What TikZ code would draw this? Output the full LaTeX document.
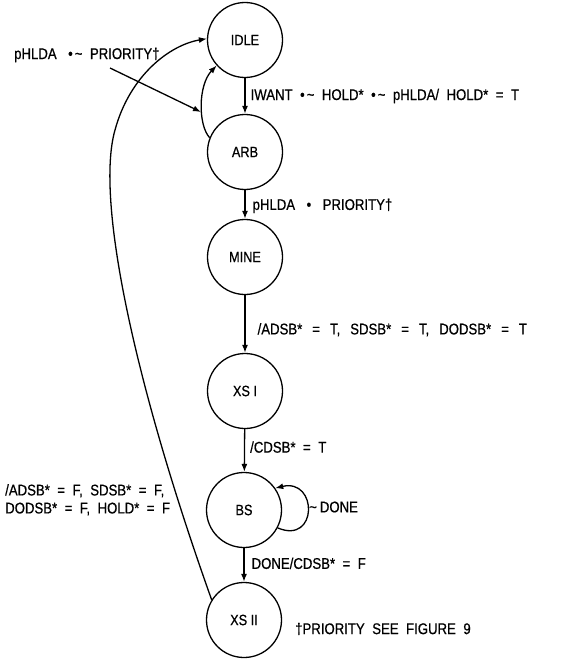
\documentclass[tikz,border=0pt]{standalone}
\usepackage{fontspec}
\setmainfont{Liberation Sans}[FakeStretch=0.85,FakeBold=0.6]
\usetikzlibrary{arrows.meta}
\newcommand{\nt}{\textasciitilde}
\newcommand{\labfont}{\fontsize{15.5}{18}\selectfont\spaceskip=7.5pt plus 1pt minus 1pt\relax}
\newcommand{\widelabfont}{\fontsize{15.5}{18}\selectfont\spaceskip=10pt plus 1pt minus 1pt\relax}
\begin{document}
\begin{tikzpicture}[x=1pt,y=-1pt,
  st/.style={circle,draw,line width=1.3pt,minimum size=75pt,inner sep=0pt,font=\fontsize{15}{17}\selectfont},
  arr/.style={line width=1.3pt,-{Latex[length=8pt,width=6pt]}},
  lab/.style={font=\labfont,inner sep=0pt,anchor=west}]
\useasboundingbox (0,0) rectangle (560,661);
\node[st] (idle) at (245,40) {IDLE};
\node[st] (arb) at (245,152) {ARB};
\node[st] (mine) at (245,257) {MINE};
\node[st] (xs1) at (245,391) {XS I};
\node[st] (bs) at (244,510) {BS};
\node[st] (xs2) at (244,620) {XS II};

\draw[arr] (idle) -- (arb) node[lab,pos=0.5,xshift=5pt] (l1) {IWANT •\kern2pt\nt\ HOLD* •\kern2pt\nt\ pHLDA/ HOLD* = T};
\draw[arr] (arb) -- (mine) node[lab,pos=0.55,xshift=7pt] (l2) {pHLDA\hspace{4pt} •\hspace{4pt} PRIORITY†};
\draw[arr] (mine) -- (xs1) node[lab,pos=0.6,xshift=12pt,font=\widelabfont] (l3) {/ADSB* = T, SDSB* = T, DODSB* = T};
\draw[arr] (xs1) -- (bs) node[lab,pos=0.42,xshift=5pt] (l4) {/CDSB* = T};
\draw[arr] (bs) -- (xs2) node[lab,pos=0.45,xshift=7pt] (l5) {DONE/CDSB* = F};

\draw[arr] (arb.158) .. controls (198,125) and (198,85) .. (idle.222);
\node[lab] (l6) at (14,55) {pHLDA\hspace{4pt} •\kern2pt\nt\ PRIORITY†};
\coordinate (ps) at (110,68);
\coordinate (pe) at (201,112);
\draw[arr] (ps) -- (pe);

\draw[arr] (bs.-28) .. controls (318,545) and (318,478) .. (bs.35);
\node[lab] (l7) at (309,507) {\nt\kern3pt DONE};

\draw[arr] (xs2.148) .. controls (135,385) and (95,200) .. (115,130) .. controls (130,75) and (170,45) .. (idle.178);
\node[lab,align=left,anchor=north west] (l8) at (5,484) {/ADSB* = F, SDSB* = F,\\DODSB* = F, HOLD* = F};

\node[lab] (fn) at (295,629) {†PRIORITY\ SEE FIGURE 9};
\end{tikzpicture}
\end{document}
